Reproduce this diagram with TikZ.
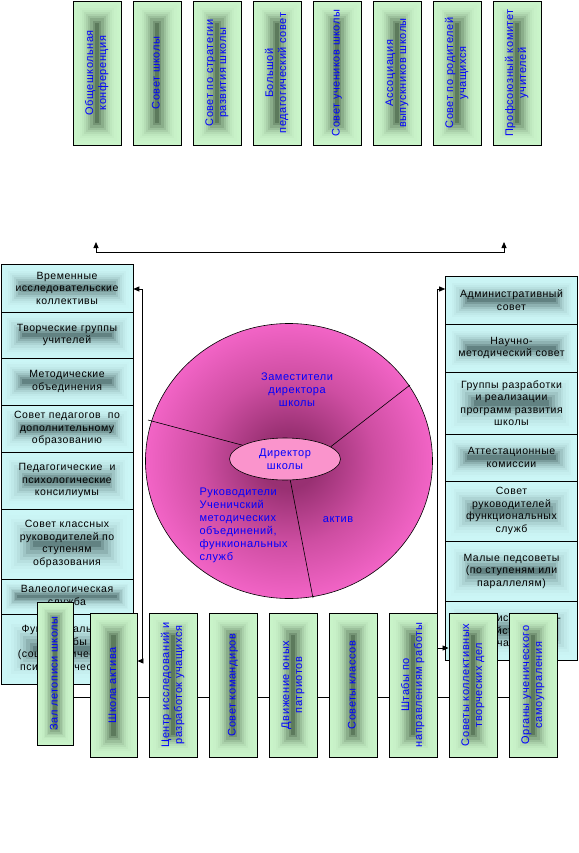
\documentclass[tikz,border=0pt]{standalone}
\usepackage{fontspec}
\setmainfont{Liberation Sans}[LetterSpace=5]
\usetikzlibrary{arrows.meta,calc,shapes.geometric}

\definecolor{gOut}{RGB}{202,244,202}
\definecolor{gIn}{RGB}{92,122,92}
\definecolor{cOut}{RGB}{204,246,246}
\definecolor{cIn}{RGB}{98,130,130}
\definecolor{ringOut}{RGB}{242,100,198}
\definecolor{ringMid}{RGB}{206,78,162}
\definecolor{ringIn}{RGB}{152,48,114}
\definecolor{dirFill}{RGB}{250,148,204}
\definecolor{txtBlue}{RGB}{0,0,255}

\pgfdeclareradialshading{ringshade}{\pgfpointorigin}{color(0bp)=(ringIn); color(5bp)=(ringIn); color(15bp)=(ringMid); color(25bp)=(ringOut); color(50bp)=(ringOut)}

% nested bands, darker to the middle
\newcommand{\bandfill}[2]{%
  \pgfpointdiff{\pgfpointanchor{path picture bounding box}{south west}}%
    {\pgfpointanchor{path picture bounding box}{north east}}%
  \pgfgetlastxy{\bandw}{\bandh}%
  \pgfmathsetmacro{\bandd}{min(\bandw,\bandh)/22}%
  \foreach \k in {0,...,10}{%
    \pgfmathsetmacro{\bandp}{100*(\k/10)^2.4}%
    \fill[#2!\bandp!#1] ($(path picture bounding box.south west)+(\k*\bandd pt,\k*\bandd pt)$)
      rectangle ($(path picture bounding box.north east)-(\k*\bandd pt,\k*\bandd pt)$);
  }}
\newcommand{\vlab}[1]{\rotatebox{90}{\begin{tabular}{@{}c@{}}#1\end{tabular}}}

\tikzset{
  greenbox/.style={draw, line width=0.9pt, inner sep=0pt, minimum width=48, minimum height=144,
    path picture={\bandfill{gOut}{gIn}}, text=txtBlue, font=\fontsize{11}{13}\selectfont},
  sidebox/.style={draw, line width=0.6pt, inner sep=0pt, minimum width=132, text width=128,
    align=center, path picture={\bandfill{cOut}{cIn}}, font=\fontsize{10.5}{12.5}\selectfont},
  bluetext/.style={text=txtBlue, font=\fontsize{11}{13}\selectfont},
  twotip/.style={line width=0.8pt, {Triangle[length=6pt,width=5pt]}-{Triangle[length=6pt,width=5pt]}}
}

\begin{document}
\begin{tikzpicture}[x=1pt,y=-1pt]
  \useasboundingbox (0,0) rectangle (578,853);

  % ring with the director
  \coordinate (O) at (289,461);
  \shade[shading=ringshade, draw=black, line width=0.6pt] (O) ellipse [x radius=143.5, y radius=137.5];
  \node[ellipse, draw, line width=0.6pt, fill=dirFill, minimum width=111, minimum height=42, inner sep=0pt,
    align=center, bluetext] (dir) at (285,459) {Директор\\школы};
  \coordinate (c1) at (148,420);
  \coordinate (c2) at (410,385);
  \coordinate (c3) at (313,598);
  \draw[line width=0.6pt] (dir.162) -- (c1);
  \draw[line width=0.6pt] (dir.15) -- (c2);
  \draw[line width=0.6pt] (dir.-76) -- (c3);
  \node[bluetext, align=center] (zam) at (297,390) {Заместители\\директора\\школы};
  \node[bluetext, align=left, anchor=west] (ruk) at (196,525)
    {Руководители\\Ученичский\\методических\\объединений,\\функиональных\\служб};
  \node[bluetext] (akt) at (338,520) {актив};

  % left column
  \node[sidebox, minimum height=48] (l1) at (67,288) {Временные\\исследовательские\\коллективы};
  \node[sidebox, minimum height=46] (l2) at (67,335) {Творческие группы\\учителей};
  \node[sidebox, minimum height=47] (l3) at (67,381.5) {Методические\\объединения};
  \node[sidebox, minimum height=47] (l4) at (67,428.5) {Совет педагогов~ по\\дополнительному\\образованию};
  \node[sidebox, minimum height=57] (l5) at (67,480.5) {Педагогические~ и\\психологические\\консилиумы};
  \node[sidebox, minimum height=70] (l6) at (67,544) {Совет классных\\руководителей по\\ступеням\\образования};
  \node[sidebox, minimum height=35] (l7) at (67,596.5) {Валеологическая\\служба};
  \node[sidebox, minimum height=70] (l8) at (67,649) {Функциональные\\службы\\(социологическая,\\психологическая)};

  % right column
  \node[sidebox, minimum height=48] (r1) at (511.5,300) {Административный\\совет};
  \node[sidebox, minimum height=48] (r2) at (511.5,348) {Научно-\\методический совет};
  \node[sidebox, minimum height=62] (r3) at (511.5,403) {Группы разработки\\и реализации\\программ развития\\школы};
  \node[sidebox, minimum height=47] (r4) at (511.5,457.5) {Аттестационные\\комиссии};
  \node[sidebox, minimum height=60] (r5) at (511.5,511) {Совет\\руководителей\\функциональных\\служб};
  \node[sidebox, minimum height=60] (r6) at (511.5,571) {Малые педсоветы\\(по ступеням или\\параллелям)};
  \node[sidebox, minimum height=59] (r7) at (511.5,630.5) {Административно-\\хозяйственная\\часть};

  % top row
  \node[greenbox] (t1) at (97,73) {\vlab{Общешкольная\\конференция}};
  \node[greenbox] (t2) at (157,73) {\vlab{Совет школы}};
  \node[greenbox] (t3) at (217,73) {\vlab{Совет по стратегии\\развития школы}};
  \node[greenbox] (t4) at (277,73) {\vlab{Большой\\педагогический совет}};
  \node[greenbox] (t5) at (337,73) {\vlab{Совет учеников школы}};
  \node[greenbox] (t6) at (397,73) {\vlab{Ассоциация\\выпускников школы}};
  \node[greenbox] (t7) at (457,73) {\vlab{Совет по родителей\\учащихся}};
  \node[greenbox] (t8) at (517,73) {\vlab{Профсоюзный комитет\\учителей}};

  % connectors
  \coordinate (ua) at (96,242);
  \coordinate (ul) at (96,252);
  \coordinate (ur) at (504,252);
  \coordinate (ub) at (504,242);
  \draw[twotip] (ua) -- (ul) -- (ur) -- (ub);

  \coordinate (lt) at (142,289);
  \coordinate (lb) at (142,661);
  \coordinate (rt) at (437,289);
  \coordinate (rb) at (437,648);
  \coordinate (hl) at (0,697);

  % bottom row
  \node[greenbox, minimum width=36, minimum height=143] (b1) at (55,673.5) {\vlab{Зал летописи школы}};
  \node[greenbox, minimum width=47] (b2) at (113.5,685.5) {\vlab{Школа актива}};
  \node[greenbox] (b3) at (173,685) {\vlab{Центр исследований и\\разработок учащихся}};
  \node[greenbox] (b4) at (233,685) {\vlab{Совет командиров}};
  \node[greenbox] (b5) at (293,685) {\vlab{Движение юных\\патриотов}};
  \node[greenbox] (b6) at (353,685) {\vlab{Советы классов}};
  \node[greenbox] (b7) at (413,685) {\vlab{Штабы по\\направлениям работы}};
  \node[greenbox] (b8) at (473,685) {\vlab{Советы коллективных\\творческих дел}};
  \node[greenbox] (b9) at (533,685) {\vlab{Органы ученического\\самоупраления}};

  \foreach \a/\b in {b1/b2,b2/b3,b3/b4,b4/b5,b5/b6,b6/b7,b7/b8,b8/b9}
    \draw[line width=0.8pt] (\a.east |- hl) -- (\b.west |- hl);
  \draw[twotip] (lt -| l1.east) -- (lt) -- (lb) -- (lb -| b2.east);
  \draw[twotip] (rt -| r1.west) -- (rt) -- (rb) -- (rb -| b8.west);
\end{tikzpicture}
\end{document}
